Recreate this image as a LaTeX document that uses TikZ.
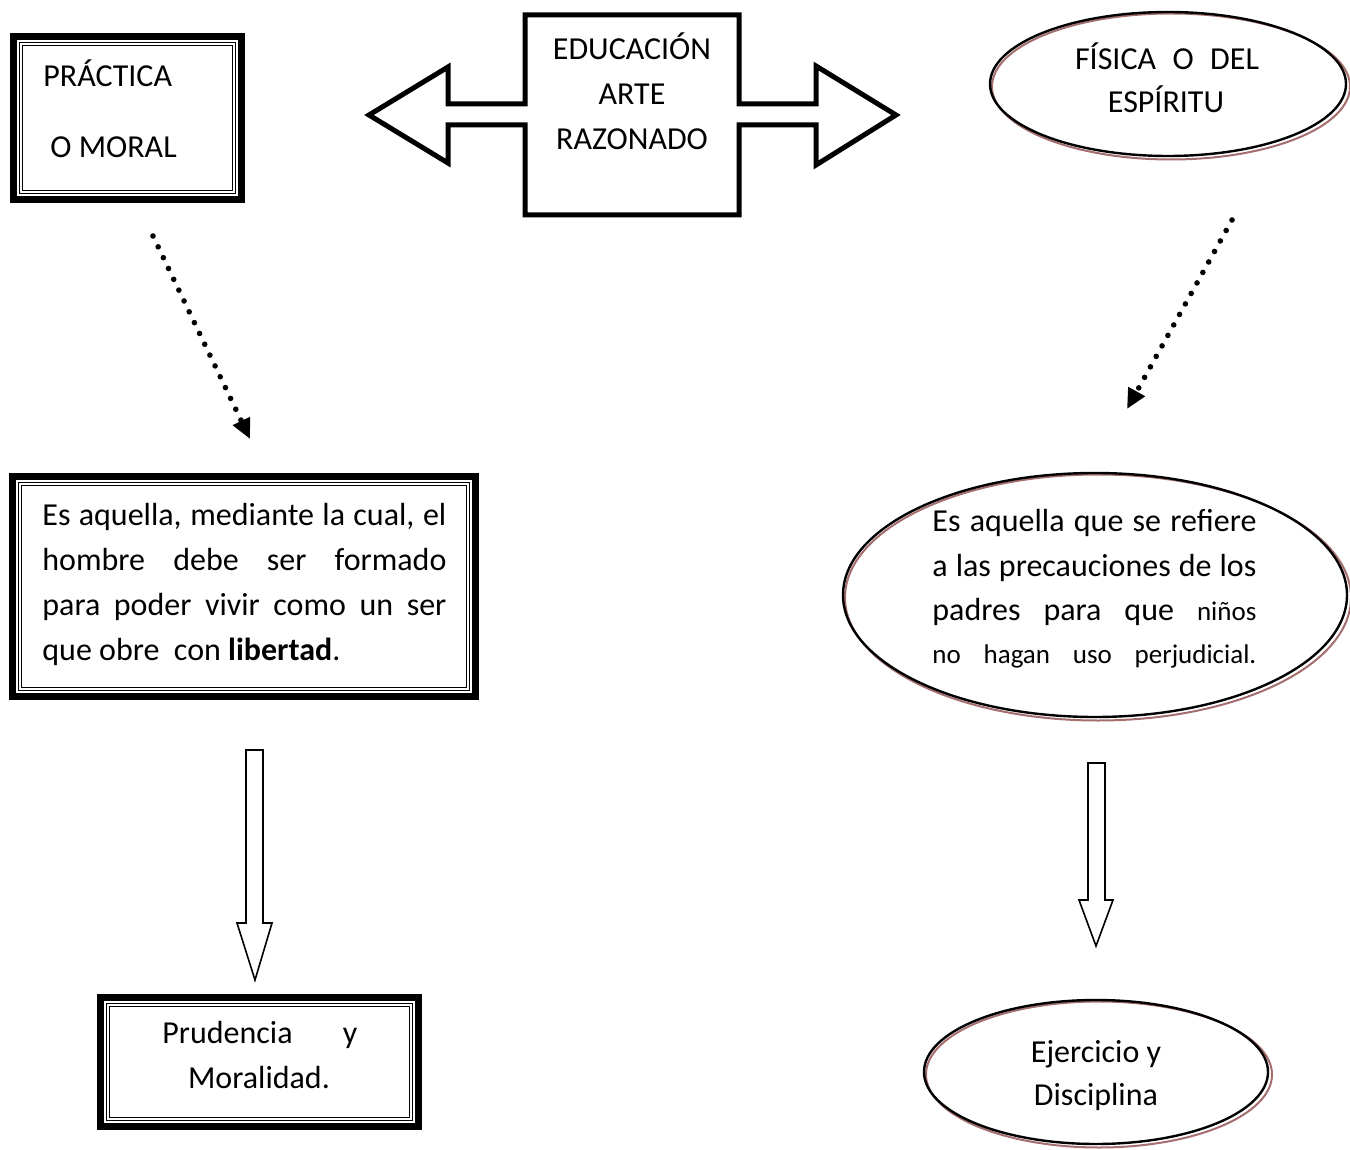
\documentclass[tikz,border=0pt]{standalone}
\usepackage{fontspec}
\setmainfont{Carlito}
\usetikzlibrary{arrows.meta}
\definecolor{rosebrown}{RGB}{165,110,110}
\newcommand\ttframe[4]{%
  \draw[line width=3.6pt] ({#1+3.6},{#2+3.6}) rectangle ({#3-3.6},{#4-3.6});
  \draw[line width=0.6pt] ({#1+9.8},{#2+9.8}) rectangle ({#3-9.8},{#4-9.8});
  \draw[line width=0.6pt] ({#1+12.6},{#2+12.6}) rectangle ({#3-12.6},{#4-12.6});
}
\newcommand\dblellipse[4]{%
  \draw[rosebrown, line width=1pt] ({#1+3},{#2+2.5}) ellipse [x radius=#3+0.5pt, y radius=#4+0.5pt];
  \draw[black, line width=1.2pt] (#1,#2) ellipse [x radius=#3, y radius=#4];
}
\tikzset{
  txt/.style={font=\fontsize{16pt}{20pt}\selectfont, inner sep=0pt, anchor=base west},
  ctxt/.style={font=\fontsize{16pt}{20pt}\selectfont, inner sep=0pt, anchor=base},
  blockarrow/.style={draw, line width=2.5pt, line join=miter},
  thinarrow/.style={draw, line width=0.8pt, line join=miter},
  dotarrow/.style={line width=2.8pt, line cap=round, dash pattern=on 0pt off 6pt,
    -{Triangle[length=10pt,width=9pt]}}
}
\begin{document}
\begin{tikzpicture}[x=0.5pt,y=-0.5pt]
\useasboundingbox (0,0) rectangle (1350,1150);

% --- PRÁCTICA box
\ttframe{10}{33}{245}{203}
\node[txt] (prac1) at (43,87) {PRÁCTICA};
\node[txt] (prac2) at (50,158) {O MORAL};

% --- central double arrow
\path[blockarrow] (369,115) -- (448,67) -- (448,104) -- (525,104) -- (525,15)
  -- (739,15) -- (739,104) -- (816,104) -- (816,66) -- (896,115) -- (816,165)
  -- (816,125) -- (739,125) -- (739,215) -- (525,215) -- (525,125) -- (448,125)
  -- (448,163) -- cycle;
\node[ctxt] (edu1) at (632,60) {EDUCACIÓN};
\node[ctxt] (edu2) at (632,105) {ARTE};
\node[ctxt] (edu3) at (632,150) {RAZONADO};

% --- FÍSICA ellipse
\dblellipse{1168}{84}{89pt}{36pt}
\node[ctxt] (fis1) at (1167,70) {\makebox[92pt][s]{FÍSICA O DEL}};
\node[ctxt] (fis2) at (1166,113) {ESPÍRITU};

% --- dotted connectors
\coordinate (dlS) at (153,236);
\coordinate (dlE) at (250,439);
\coordinate (drS) at (1232,220);
\coordinate (drE) at (1127,409);
\draw[dotarrow] (dlS) -- (dlE);
\draw[dotarrow] (drS) -- (drE);

% --- left body box
\ttframe{9}{473}{479}{700}
\node[txt] (lb1) at (42,525) {\makebox[202pt][s]{Es aquella, mediante la cual, el}};
\node[txt] (lb2) at (42,570) {\makebox[202pt][s]{hombre debe ser formado}};
\node[txt] (lb3) at (42,615) {\makebox[202pt][s]{para poder vivir como un ser}};
\node[txt] (lb4) at (42,660) {que obre\ \ con \textbf{libertad}.};

% --- right body ellipse
\dblellipse{1095}{595}{126pt}{61pt}
\node[txt] (rb1) at (932,531) {\makebox[162pt][s]{Es aquella que se refiere}};
\node[txt] (rb2) at (932,576) {\makebox[162pt][s]{a las precauciones de los}};
\node[txt] (rb3) at (932,620) {\makebox[162pt][s]{padres para que {\fontsize{13.5pt}{16pt}\selectfont niños}}};
\node[txt] (rb4) at (932,663) {\fontsize{13.5pt}{16pt}\selectfont\makebox[162pt][s]{no hagan uso perjudicial.}};

% --- down block arrows
\path[thinarrow] (246,750) -- (263,750) -- (263,923) -- (272,923) -- (255,980)
  -- (237,923) -- (246,923) -- cycle;
\path[thinarrow] (1088,763) -- (1105,763) -- (1105,900) -- (1113,900) -- (1096,946)
  -- (1079,900) -- (1088,900) -- cycle;

% --- Prudencia box
\ttframe{97}{994}{422}{1130}
\node[txt] (pru1) at (162,1043) {\makebox[97.5pt][s]{Prudencia y}};
\node[ctxt] (pru2) at (259,1088) {Moralidad.};

% --- Ejercicio ellipse
\dblellipse{1096}{1072}{86pt}{36pt}
\node[ctxt] (eje1) at (1096,1062) {Ejercicio y};
\node[ctxt] (eje2) at (1096,1105) {Disciplina};
\end{tikzpicture}
\end{document}
